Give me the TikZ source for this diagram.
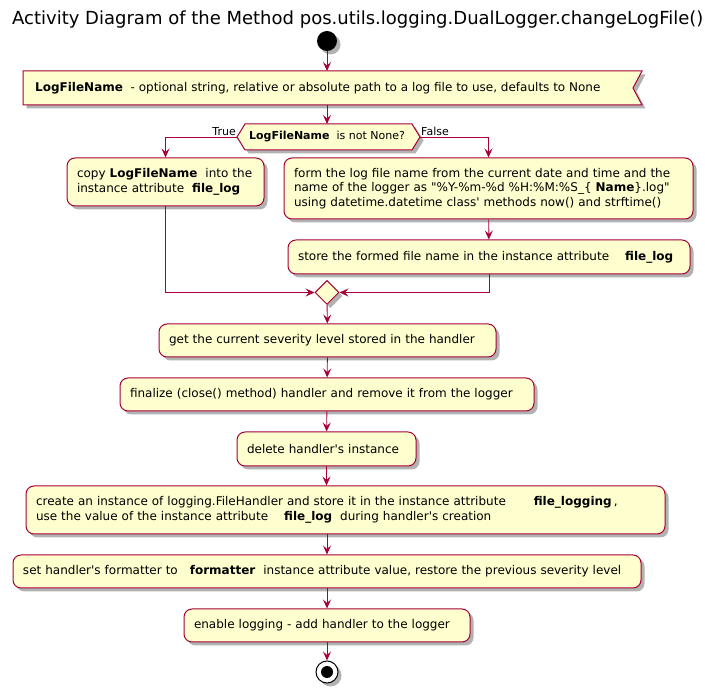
\documentclass[tikz,border=0pt]{standalone}
\usepackage{fontspec}
\setmainfont{DejaVu Sans}[Ligatures=TeXOff]
\usetikzlibrary{arrows.meta,shapes.geometric,shadows}
\definecolor{umlred}{HTML}{A80036}
\definecolor{umlfill}{HTML}{FEFECE}
\newcommand{\umlfont}{\fontsize{12}{14.5}\selectfont}
\newcommand{\smallumlfont}{\fontsize{11}{13}\selectfont}

\begin{document}
\begin{tikzpicture}[x=1pt, y=-1pt,
  umlshadow/.style={drop shadow={fill=black, opacity=0.3, shadow xshift=3.5pt, shadow yshift=-3.5pt}},
  act/.style={draw=umlred, fill=umlfill, line width=1pt, rounded corners=8pt,
              align=left, inner xsep=10pt, inner ysep=0pt, font=\umlfont, umlshadow},
  flow/.style={draw=umlred, line width=0.9pt, -{Stealth[length=9pt, width=8pt, inset=3.5pt]}},
  lbl/.style={font=\smallumlfont, inner sep=1pt},
  ]
\useasboundingbox (0,0) rectangle (705,692);
\node[anchor=west, font=\fontsize{18}{20}\selectfont, inner sep=0pt] (title) at (12,20)
  {Activity Diagram of the Method pos.utils.logging.DualLogger.changeLogFile()};
\node[circle, fill=black, minimum size=20pt, inner sep=0pt, umlshadow] (start) at (327,41) {};

% parameter note
\path[draw=umlred, fill=umlfill, line width=1pt, umlshadow]
  (23,71) -- (642,71) -- (633,88) -- (642,105) -- (23,105) -- cycle;
\node[anchor=west, font=\umlfont, inner sep=0pt] (note) at (35,88)
  {\textbf{LogFileName}\ \ - optional string, relative or absolute path to a log file to use, defaults to None};
\coordinate (noteS) at (327,105);
\coordinate (noteN) at (327,71);

% decision
\coordinate (testW) at (237,137);
\coordinate (testE) at (420,137);
\coordinate (testN) at (327,124);
\path[draw=umlred, fill=umlfill, line width=1pt, umlshadow]
  (testW) -- (245,124) -- (412,124) -- (testE) -- (412,150) -- (245,150) -- cycle;
\node[font=\smallumlfont, inner sep=0pt] (test) at (327,137) {\textbf{LogFileName}\ \ is not None?};

% branches
\node[act, text width=177pt, minimum height=48pt] (copy) at (165.5,182)
  {copy \textbf{LogFileName}\ \ into the\\instance attribute\ \ \textbf{file\_log}};
\node[act, text width=389pt, minimum height=61pt] (form) at (488.5,188.5)
  {form the log file name from the current date and time and the\\
   name of the logger as "\%Y-\%m-\%d \%H:\%M:\%S\_\{\ \textbf{Name}\}.log"\\
   using datetime.datetime class' methods now() and strftime()};
\node[act, text width=382pt, minimum height=34pt] (store) at (489,257)
  {store the formed file name in the instance attribute\quad\ \textbf{file\_log}};
\node[diamond, draw=umlred, fill=umlfill, line width=1pt, minimum size=24pt,
      inner sep=0pt, umlshadow] (merge) at (327,292.5) {};

% main sequence
\node[act, text width=317pt, minimum height=33pt] (level) at (327.5,340.5)
  {get the current severity level stored in the handler};
\node[act, text width=394pt, minimum height=33pt] (close) at (327,394.5)
  {finalize (close() method) handler and remove it from the logger};
\node[act, text width=159pt, minimum height=34pt] (delete) at (326.5,449)
  {delete handler's instance};
\node[act, text width=619pt, minimum height=48pt] (create) at (345.5,510)
  {create an instance of logging.FileHandler and store it in the instance attribute\qquad\ \textbf{file\_logging}\,,\\
   use the value of the instance attribute\quad\ \textbf{file\_log}\ \ during handler's creation};
\node[act, text width=608pt, minimum height=33pt] (format) at (327,571.5)
  {set handler's formatter to\quad\textbf{formatter}\ \ instance attribute value, restore the previous severity level};
\node[act, text width=266pt, minimum height=33pt] (enable) at (327,625.5)
  {enable logging - add handler to the logger};
\node[circle, draw=black, fill=white, line width=1pt, minimum size=22pt, inner sep=0pt, umlshadow] (stop) at (327,672) {};
\node[circle, fill=black, minimum size=12pt, inner sep=0pt] (stopdot) at (stop) {};

% connectors
\draw[flow] (start) -- (noteN);
\draw[flow] (noteS) -- (testN);
\draw[flow] (testW) -| (copy.north);
\draw[flow] (testE) -| (form.north);
\node[lbl, anchor=south east] at (testW) {True};
\node[lbl, anchor=south west] at (testE) {False};
\draw[flow] (form) -- (store);
\draw[flow] (copy.south) |- (merge.west);
\draw[flow] (store.south) |- (merge.east);
\draw[flow] (merge) -- (level);
\draw[flow] (level) -- (close);
\draw[flow] (close) -- (delete);
\draw[flow] (delete.south) -- (delete.south |- create.north);
\draw[flow] (create.south -| format.north) -- (format.north);
\draw[flow] (format) -- (enable);
\draw[flow] (enable) -- (stop);
\end{tikzpicture}
\end{document}
